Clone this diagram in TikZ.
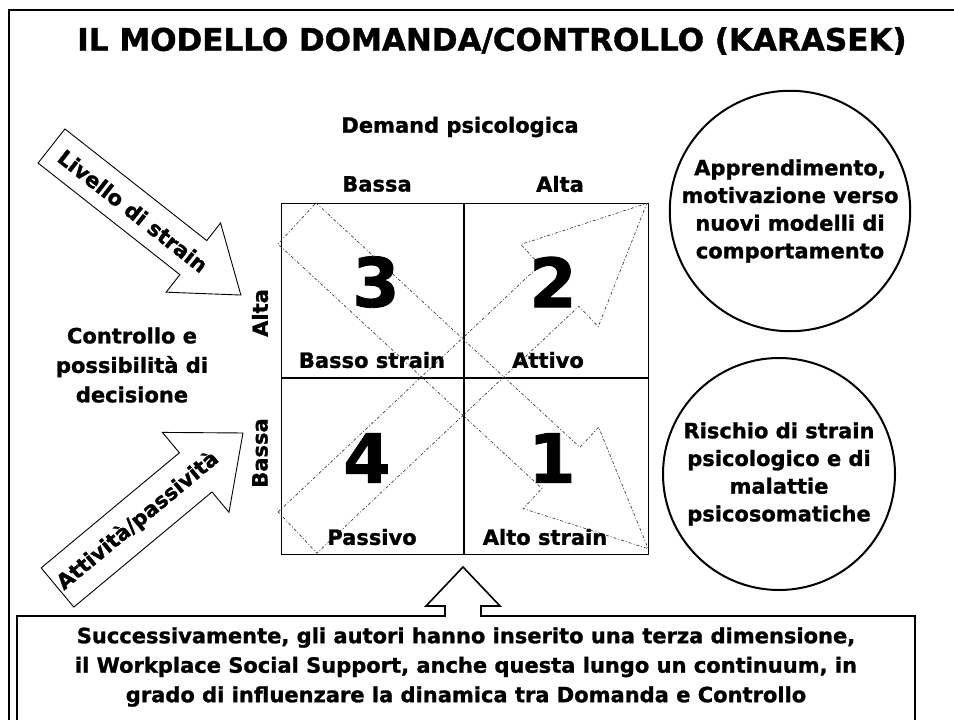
\documentclass[tikz,border=0pt]{standalone}
\usepackage{fontspec}
\setmainfont{DejaVu Sans}[BoldFeatures={FakeBold=1.2}]
\usetikzlibrary{positioning}

\tikzset{
  lbl/.style={font=\fontsize{21}{29.5}\selectfont\bfseries, align=center, inner sep=0pt},
  quadnum/.style={font=\fontsize{68}{68}\selectfont\bfseries, inner sep=0pt},
  fatarrow/.style={draw=black, line width=0.9pt, fill=white},
  dasharrow/.style={draw=black!75, line width=0.7pt, dash pattern=on 3pt off 2pt on 1pt off 2pt},
  bubble/.style={circle, draw, line width=2pt, font=\fontsize{21}{27.7}\selectfont\bfseries, align=center, inner sep=0pt},
}
\newcommand{\blockarrow}[4]{(0,-#2) -- ({#1-#4},-#2) -- ({#1-#4},-#3) -- (#1,0) -- ({#1-#4},#3) -- ({#1-#4},#2) -- (0,#2) -- cycle}

\begin{document}
\begin{tikzpicture}[x=1pt, y=-1pt]
\useasboundingbox (0,0) rectangle (954,720);
\draw[line width=2.5pt] (956,10) -- (9,10) -- (9,722);

\node[font=\fontsize{31}{31}\selectfont\bfseries] (title) at (492,41) {IL MODELLO DOMANDA/CONTROLLO (KARASEK)};

\coordinate (nw) at (281,203);
\coordinate (se) at (648,554);
\coordinate (mid) at (464,378);
\draw[line width=1pt] (nw) rectangle (se);
\draw[line width=2.4pt] (nw -| mid) -- (se -| mid);
\draw[line width=2.4pt] (nw |- mid) -- (se |- mid);

\begin{scope}[shift={(297.5,532.5)}, rotate=43.3]
  \draw[dasharrow] \blockarrow{480}{28.3}{56.5}{120};
\end{scope}
\begin{scope}[shift={(297,223.5)}, rotate=-42.8]
  \draw[dasharrow] \blockarrow{478.7}{28}{55.5}{119};
\end{scope}

\begin{scope}[shift={(51.5,146)}, rotate=-38.2]
  \draw[fatarrow] \blockarrow{241}{21.7}{44}{60.5};
\end{scope}
\begin{scope}[shift={(57.5,587.5)}, rotate=39.8]
  \draw[fatarrow] \blockarrow{241.4}{25.5}{52}{61.5};
\end{scope}
\node[lbl, rotate=-38.2] (strain) at (133,211) {Livello di strain};
\node[lbl, rotate=39.8] (activity) at (138,521) {Attività/passività};

\node[lbl] (demand) at (460,127) {Demand psicologica};
\node[lbl] (dlow) at (377,184) {Bassa};
\node[lbl] (dhigh) at (560,184) {Alta};
\node[lbl, rotate=90] (chigh) at (260,313) {Alta};
\node[lbl, rotate=90] (clow) at (260,453) {Bassa};
\node[lbl] (control) at (132,365) {Controllo e\\possibilità di\\decisione};

\node[quadnum] (q3) at (376,282) {3};
\node[quadnum] (q2) at (553,282) {2};
\node[quadnum] (q4) at (367,458) {4};
\node[quadnum] (q1) at (552,458) {1};
\node[lbl] (lowstrain) at (372,360) {Basso strain};
\node[lbl] (active) at (548,360) {Attivo};
\node[lbl] (passive) at (372,537) {Passivo};
\node[lbl] (highstrain) at (545,537) {Alto strain};

\node[bubble, minimum size=240pt] (learn) at (790,211) {Apprendimento,\\motivazione verso\\nuovi modelli di\\comportamento};
\node[bubble, minimum size=232pt] (risk) at (779,474) {Rischio di strain\\psicologico e di\\malattie\\psicosomatiche};

\draw[line width=1.6pt, fill=white]
     (17,722) -- (17,616) -- (445,616) -- (445,606) -- (426,606)
  -- (463,567) -- (500,606) -- (481,606) -- (481,616) -- (915,616) -- (915,722);
\node[lbl] (support) at (466,667) {Successivamente, gli autori hanno inserito una terza dimensione,\\il Workplace Social Support, anche questa lungo un continuum, in\\grado di influenzare la dinamica tra Domanda e Controllo};
\end{tikzpicture}
\end{document}
